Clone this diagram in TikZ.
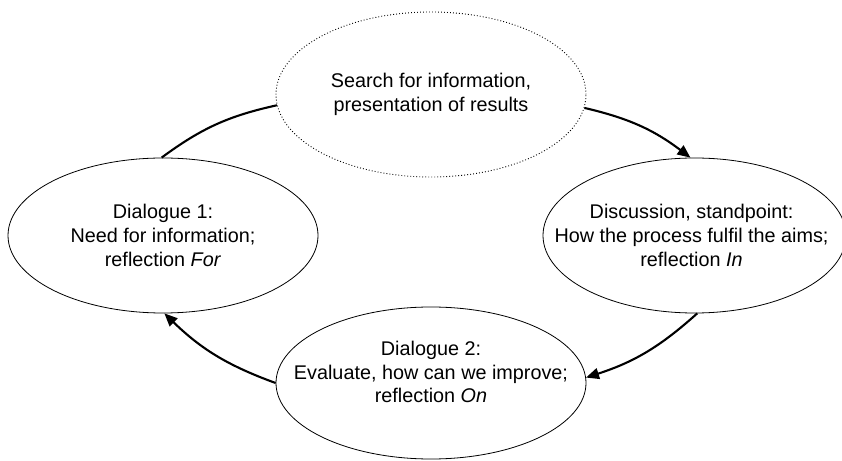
\documentclass[tikz,border=0pt]{standalone}
\usepackage{fontspec}
\setmainfont{Liberation Sans}
\usetikzlibrary{shapes.geometric,arrows.meta}
\begin{document}
\begin{tikzpicture}[x=1pt,y=1pt,
  txt/.style={font=\fontsize{19.8}{23.8}\selectfont, align=center, inner sep=0pt},
  ell/.style={ellipse, draw, line width=0.8pt, inner sep=0pt},
  dotell/.style={ellipse, draw, line width=0.9pt, dash pattern=on 0.9pt off 2.1pt, inner sep=0pt},
  link/.style={line width=2.1pt},
  arrowlink/.style={line width=2.1pt, -{Triangle[length=13pt,width=11pt]}}]
\useasboundingbox (0,0) rectangle (842,460);
\node[dotell, minimum width=310pt, minimum height=165pt] (search) at (431,365.5) {};
\node[txt] (searchtext) at (search.center) {Search for information,\\presentation of results};
\node[ell, minimum width=310pt, minimum height=155pt] (dia1) at (163,224.5) {};
\node[txt] (dia1text) at (dia1.center) {Dialogue 1:\\Need for information;\\reflection \textit{For}};
\node[ell, minimum width=303pt, minimum height=155pt] (disc) at (694.5,224.5) {};
\node[txt] (disctext) at ([xshift=-3pt]disc.center) {Discussion, standpoint:\\How the process fulfil the aims;\\reflection \textit{In}};
\node[ell, minimum width=310pt, minimum height=152pt] (dia2) at (431,77) {};
\node[txt] (dia2text) at ([yshift=11pt]dia2.center) {Dialogue 2:\\Evaluate, how can we improve;\\reflection \textit{On}};

\draw[link] (dia1.91) to[bend left=12] (search.184);
\draw[arrowlink] (search.-5) to[bend left=12] (disc.93);
\draw[arrowlink] (disc.-88) to[bend left=12] (dia2.2);
\draw[arrowlink] (dia2.180) to[bend left=12] (dia1.-89);
\end{tikzpicture}
\end{document}
